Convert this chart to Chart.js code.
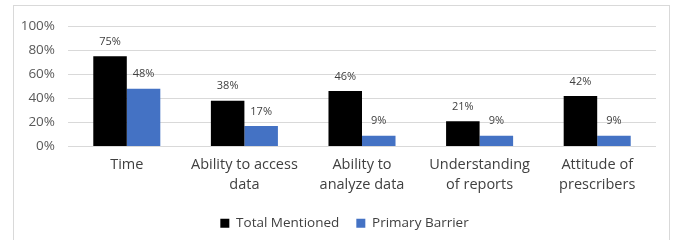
<!DOCTYPE html>
<html><head><meta charset="utf-8">
<script src="https://cdn.jsdelivr.net/npm/chart.js@4"></script>
<style>
html,body{margin:0;padding:0;background:#fff;overflow:hidden;}
#frame{position:absolute;left:13px;top:5px;width:657px;height:250px;border:1px solid #d9d9d9;box-sizing:border-box;}
#wrap{position:absolute;left:-1px;top:-1px;width:656px;height:238px;}
</style></head>
<body>
<div id="frame"><div id="wrap"><canvas id="c"></canvas></div></div>
<script>
const categories = [["Time"], ["Ability to access", "data"], ["Ability to", "analyze data"], ["Understanding", "of reports"], ["Attitude of", "prescribers"]];
const totalMentioned = [75, 38, 46, 21, 42];
const primaryBarrier = [48, 17, 9, 9, 9];
const yTicks = [0, 20, 40, 60, 80, 100];

const FONT = "'Open Sans', 'Noto Sans', sans-serif";
const labelPlugin = {
  id: 'valLabels',
  beforeDraw(chart) {
    // centre the legend under the plot like the reference
    const lg = chart.legend;
    if (lg && !lg._shifted) { lg.left += 10; lg.right += 10; lg._shifted = true; }
  },
  afterDatasetsDraw(chart) {
    const ctx = chart.ctx;
    ctx.save();
    ctx.font = "11px " + FONT;
    ctx.fillStyle = '#404040';
    ctx.textAlign = 'center';
    ctx.textBaseline = 'bottom';
    chart.data.datasets.forEach((ds, i) => {
      const meta = chart.getDatasetMeta(i);
      meta.data.forEach((bar, j) => {
        ctx.fillText(ds.data[j] + '%', bar.x, bar.y - 9);
      });
    });
    ctx.restore();
  }
};

new Chart(document.getElementById('c'), {
  type: 'bar',
  data: {
    labels: categories,
    datasets: [
      {label: 'Total Mentioned', data: totalMentioned, backgroundColor: '#000000', categoryPercentage: 0.57, barPercentage: 1.0},
      {label: 'Primary Barrier', data: primaryBarrier, backgroundColor: '#4472C4', categoryPercentage: 0.57, barPercentage: 1.0}
    ]
  },
  options: {
    responsive: true,
    maintainAspectRatio: false,
    animation: false,
    layout: {padding: {left: 0, right: 13, top: -2, bottom: 3}},
    plugins: {
      legend: {
        position: 'bottom',
        labels: {boxWidth: 9, boxHeight: 9, color: '#404040', font: {family: FONT, size: 13.5}, padding: 17}
      },
      tooltip: {enabled: false}
    },
    scales: {
      x: {
        afterFit(scale) { scale.height = 53; },
        grid: {display: false, drawBorder: false},
        border: {display: false},
        ticks: {color: '#404040', font: {family: FONT, size: 14.5, lineHeight: 1.38}, maxRotation: 0, padding: 0}
      },
      y: {
        min: 0, max: 100,
        afterBuildTicks(scale) { scale.ticks = yTicks.map(v => ({value: v})); },
        afterFit(scale) { scale.width = 55; },
        grid: {color: '#d9d9d9', drawTicks: false},
        border: {display: false},
        ticks: {color: '#595959', font: {family: FONT, size: 13.5}, padding: 13, callback: v => v + '%'}
      }
    }
  },
  plugins: [labelPlugin]
});
</script>
</body></html>
